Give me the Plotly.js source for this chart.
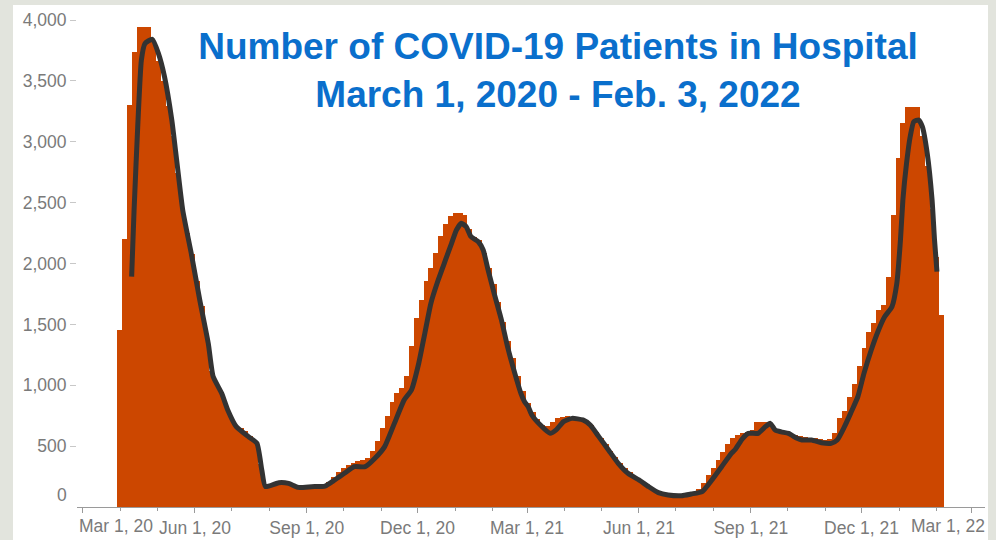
<!DOCTYPE html>
<html>
<head>
<meta charset="utf-8">
<script src="https://cdn.plot.ly/plotly-3.0.1.min.js"></script>
<style>
  html, body { margin: 0; padding: 0; width: 996px; height: 540px; background: #e2e4dd; overflow: hidden; }
  #chart { position: absolute; left: 13px; top: 5px; width: 975px; height: 535px; }
</style>
</head>
<body>
<div id="chart"></div>
<script>
// ---- Data ----
// Daily patients in hospital, grouped into 4-day bars starting 2020-03-29
const barStart = '2020-03-29';
const barStepDays = 4;
const barValues = [
  1450, 2200, 3300, 3740, 3945, 3945, 3945, 3820, 3660, 3500,
  3290, 3050, 2740, 2450, 2250, 2080, 1860, 1650, 1410, 1120,
  1015, 934, 830, 735, 668, 645, 625, 580, 545, 350,
  175, 180, 190, 195, 190, 180, 170, 165, 165, 170,
  175, 180, 185, 205, 250, 290, 320, 345, 365, 378,
  383, 400, 460, 540, 650, 750, 860, 935, 975, 1080,
  1320, 1550, 1700, 1860, 1960, 2090, 2230, 2325, 2390, 2412,
  2412, 2400, 2280, 2215, 2195, 2090, 1960, 1830, 1680, 1520,
  1360, 1220, 1080, 950, 855, 780, 720, 675, 665, 700,
  728, 740, 745, 740, 733, 720, 710, 670, 620, 570,
  515, 462, 410, 365, 320, 285, 245, 215, 190, 160,
  140, 118, 108, 100, 99, 99, 99, 103, 110, 150,
  200, 265, 320, 382, 450, 515, 565, 590, 610, 620,
  635, 700, 701, 701, 680, 643, 635, 628, 605, 590,
  583, 577, 570, 564, 557, 550, 560, 610, 735, 790,
  900, 1010, 1160, 1310, 1435, 1515, 1620, 1660, 1890, 2400,
  2870, 3150, 3288, 3288, 3288, 3050, 2800, 2450, 2050, 1580
];

// Smoothed (rolling average) line
const avgDates = [
  '2020-04-10','2020-04-12','2020-04-15','2020-04-18','2020-04-21','2020-04-27','2020-05-02','2020-05-07',
  '2020-05-13','2020-05-17','2020-05-22','2020-05-29','2020-06-05','2020-06-12','2020-06-16','2020-06-23',
  '2020-06-28','2020-07-05','2020-07-15','2020-07-22','2020-07-26','2020-07-29','2020-08-09','2020-08-17',
  '2020-08-25','2020-09-05','2020-09-16','2020-09-24','2020-10-02','2020-10-10','2020-10-19','2020-10-27',
  '2020-11-04','2020-11-12','2020-11-20','2020-11-26','2020-12-02','2020-12-07','2020-12-12','2020-12-18',
  '2020-12-24','2020-12-29','2021-01-02','2021-01-06','2021-01-10','2021-01-14','2021-01-20','2021-01-24',
  '2021-01-28','2021-02-02','2021-02-08','2021-02-13','2021-02-19','2021-02-24','2021-02-27','2021-03-02',
  '2021-03-05','2021-03-12','2021-03-20','2021-03-25','2021-03-31','2021-04-07','2021-04-16','2021-04-22',
  '2021-04-29','2021-05-07','2021-05-15','2021-05-23','2021-06-01','2021-06-09','2021-06-17','2021-06-25',
  '2021-07-06','2021-07-14','2021-07-23','2021-07-31','2021-08-08','2021-08-16','2021-08-19','2021-08-25',
  '2021-08-30','2021-09-07','2021-09-13','2021-09-17','2021-09-21','2021-09-26','2021-10-02','2021-10-09',
  '2021-10-13','2021-10-21','2021-10-29','2021-11-06','2021-11-11','2021-11-17','2021-11-22','2021-11-28',
  '2021-12-03','2021-12-09','2021-12-15','2021-12-20','2021-12-26','2021-12-30','2022-01-02','2022-01-04',
  '2022-01-07','2022-01-10','2022-01-13','2022-01-17','2022-01-20','2022-01-24','2022-01-28','2022-01-30',
  '2022-02-01'
];
const avgValues = [
  1892, 2439, 3124, 3671, 3808, 3841, 3726, 3535,
  3179, 2850, 2439, 2083, 1700, 1344, 1071, 934,
  797, 660, 578, 523, 304, 167, 200, 194,
  161, 167, 172, 222, 277, 331, 331, 400,
  496, 687, 879, 961, 1180, 1426, 1673, 1864,
  2029, 2166, 2275, 2330, 2303, 2220, 2179, 2111,
  1947, 1755, 1536, 1317, 1098, 934, 865, 824,
  756, 673, 605, 633, 701, 728, 715, 673,
  578, 468, 359, 277, 222, 167, 118, 99,
  93, 107, 126, 222, 331, 441, 470, 560,
  605, 605, 660, 687, 632, 617, 605, 564,
  550, 550, 528, 523, 550, 660, 769, 906,
  1098, 1290, 1454, 1563, 1645, 1837, 2193, 2522,
  2823, 3042, 3165, 3179, 3124, 2905, 2522, 2193,
  1933
];

// Axis ticks
const xTickVals = ['2020-03-01','2020-06-01','2020-09-01','2020-12-01','2021-03-01','2021-06-01','2021-09-01','2021-12-01','2022-03-01'];
const xTickText = ['Mar 1, 20','Jun 1, 20','Sep 1, 20','Dec 1, 20','Mar 1, 21','Jun 1, 21','Sep 1, 21','Dec 1, 21','Mar 1, 22'];
const yTickVals = [500, 1000, 1500, 2000, 2500, 3000, 3500, 4000];
const yTickText = ['500','1,000','1,500','2,000','2,500','3,000','3,500','4,000'];

// ---- Build ----
const DAY = 86400000;
const t0 = Date.parse(barStart + 'T00:00:00Z');
const barDates = barValues.map((_, i) => new Date(t0 + i * barStepDays * DAY).toISOString().slice(0, 10));

const tickFont = { family: 'Liberation Sans, Arial, sans-serif', size: 17.5, color: '#7a7a7a' };

const traces = [
  {
    type: 'bar',
    x: barDates,
    y: barValues,
    width: barStepDays * DAY,
    offset: 0,
    marker: { color: '#cc4700', line: { width: 0 } },
    hoverinfo: 'x+y'
  },
  {
    type: 'scatter',
    mode: 'lines',
    x: avgDates,
    y: avgValues,
    line: { color: '#333333', width: 5, shape: 'spline', smoothing: 0.5 },
    hoverinfo: 'x+y'
  }
];

// middle labels drawn by the axis, first/last drawn as annotations (shifted like the original)
const axisText = xTickText.map((t, i) => (i === 0 || i === xTickText.length - 1) ? '' : t);

const layout = {
  width: 975,
  height: 535,
  paper_bgcolor: '#ffffff',
  plot_bgcolor: '#ffffff',
  margin: { l: 64, r: 3, t: 15, b: 33 },
  showlegend: false,
  bargap: 0,
  title: {
    text: '<b>Number of COVID-19 Patients in Hospital<br>March 1, 2020 - Feb. 3, 2022</b>',
    font: { family: 'Liberation Sans, Arial, sans-serif', size: 37, color: '#0a6fcc' },
    x: 545 / 975,
    xanchor: 'center',
    xref: 'container',
    y: 1 - 54 / 535,
    yanchor: 'top',
    yref: 'container'
  },
  xaxis: {
    type: 'date',
    range: ['2020-02-25 02:00', '2022-03-12 12:00'],
    showgrid: false,
    zeroline: false,
    showline: true,
    linecolor: '#9a9a9a',
    linewidth: 1,
    ticks: 'outside',
    ticklen: 5,
    tickcolor: '#9a9a9a',
    tickvals: xTickVals,
    ticktext: axisText,
    tickfont: tickFont,
    minor: { dtick: 'M1', tick0: '2020-03-01', ticks: 'outside', ticklen: 3, tickcolor: '#9a9a9a', showgrid: false },
    fixedrange: true
  },
  yaxis: {
    range: [0, 4000],
    showgrid: false,
    zeroline: false,
    showline: false,
    ticks: 'outside',
    ticklen: 6,
    tickcolor: '#c8c8c8',
    tickvals: yTickVals,
    ticktext: yTickText,
    tickfont: tickFont,
    fixedrange: true
  },
  annotations: [
    {
      text: xTickText[0], xref: 'x', x: xTickVals[0], yref: 'paper', y: 0,
      xanchor: 'left', yanchor: 'top', xshift: -6, yshift: -7,
      showarrow: false, font: tickFont
    },
    {
      text: xTickText[xTickText.length - 1], xref: 'x', x: xTickVals[xTickVals.length - 1], yref: 'paper', y: 0,
      xanchor: 'right', yanchor: 'top', xshift: 16, yshift: -7,
      showarrow: false, font: tickFont
    },
    {
      text: '0', xref: 'paper', x: 0, yref: 'y', y: 0,
      xanchor: 'right', yanchor: 'middle', xshift: -8, yshift: 12,
      showarrow: false, font: tickFont
    }
  ]
};

Plotly.newPlot('chart', traces, layout, { displayModeBar: false, staticPlot: true });
</script>
</body>
</html>
